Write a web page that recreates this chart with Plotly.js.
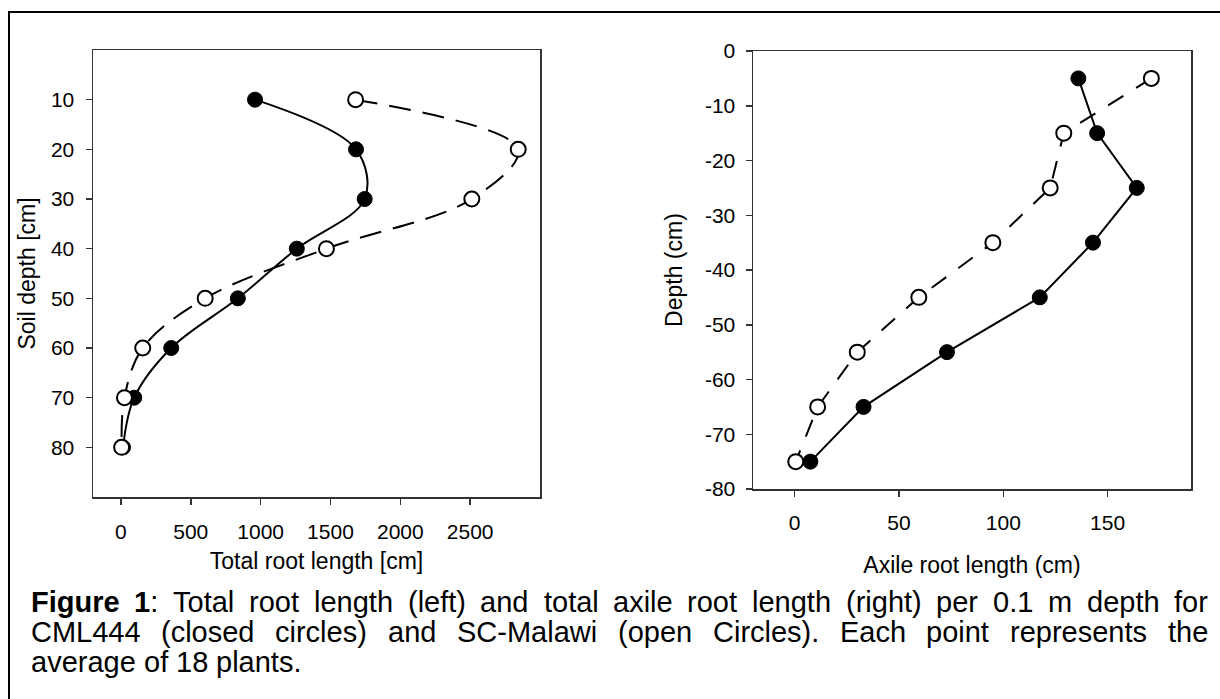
<!DOCTYPE html>
<html>
<head>
<meta charset="utf-8">
<script src="https://cdn.plot.ly/plotly-3.0.1.min.js"></script>
<style>
html,body{margin:0;padding:0;background:#fff;}
#chart{width:1220px;height:699px;}
</style>
</head>
<body>
<div id="chart"></div>
<script>
// Left panel: total root length vs soil depth
const depthLeft = [10, 20, 30, 40, 50, 60, 70, 80];
const totalCML444 = [960, 1683, 1745, 1259, 837, 360, 95, 15];
const totalSCMalawi = [1680, 2844, 2512, 1471, 603, 156, 25, 5];
const leftXTicks = [0, 500, 1000, 1500, 2000, 2500];
const leftYTicks = [10, 20, 30, 40, 50, 60, 70, 80];

// Right panel: axile root length vs depth
const depthRight = [-5, -15, -25, -35, -45, -55, -65, -75];
const axileCML444 = [136, 145, 164, 143, 117.5, 73, 33, 7.5];
const axileSCMalawi = [171, 129, 122.5, 95, 59.5, 30, 11, 0.5];
const rightXTicks = [0, 50, 100, 150];
const rightYTicks = [0, -10, -20, -30, -40, -50, -60, -70, -80];
const rightYTickText = ['0', '-10', '-20', '-30', '-40', '-50', '-60', '-70', '-80'];

// Caption
const captionBold = "Figure 1";
const captionLines = [
  "Figure 1: Total root length (left) and total axile root length (right) per 0.1 m depth for",
  "CML444 (closed circles) and SC-Malawi (open Circles). Each point represents the",
  "average of 18 plants."
];

const W = 1220, H = 699;
const FAMILY = 'Liberation Sans';
const FONT = "'Liberation Sans', Arial, sans-serif";
const px = v => v / W;
const py = v => 1 - v / H;

const closedMarker = {symbol: 'circle', size: 15, color: '#000', line: {color: '#000', width: 1}};
const openMarker = {symbol: 'circle', size: 15, color: '#fff', line: {color: '#000', width: 2}};

const traces = [
  {x: totalCML444, y: depthLeft, xaxis: 'x', yaxis: 'y', mode: 'lines+markers', name: 'CML444',
   line: {color: '#000', width: 2, shape: 'spline', smoothing: 1}, marker: closedMarker},
  {x: totalSCMalawi, y: depthLeft, xaxis: 'x', yaxis: 'y', mode: 'lines+markers', name: 'SC-Malawi',
   line: {color: '#000', width: 2, shape: 'spline', smoothing: 1, dash: '22px,12px'}, marker: openMarker},
  {x: axileCML444, y: depthRight, xaxis: 'x2', yaxis: 'y2', mode: 'lines+markers', name: 'CML444',
   line: {color: '#000', width: 2}, marker: closedMarker},
  {x: axileSCMalawi, y: depthRight, xaxis: 'x2', yaxis: 'y2', mode: 'lines+markers', name: 'SC-Malawi',
   line: {color: '#000', width: 2, dash: '18px,15px'}, marker: openMarker}
];

const TICKSIZE = 21, TITLESIZE = 23;
const axisCommon = {
  showgrid: false, zeroline: false, showline: true, mirror: true,
  linecolor: '#333', linewidth: 1.5,
  ticks: 'outside', ticklen: 6, tickwidth: 1.5, tickcolor: '#333',
  tickfont: {family: FONT, size: TICKSIZE, color: '#000'},
  fixedrange: true, automargin: false
};

// ---- justified caption, one annotation per word ----
const CAPSIZE = 29;
const cv = document.createElement('canvas').getContext('2d');
function measure(text, bold) {
  cv.font = (bold ? 'bold ' : '') + CAPSIZE + 'px "' + FAMILY + '"';
  return cv.measureText(text).width;
}
const capLeft = 30, capRight = 1207;
const capY = [602, 632, 662];
const captionAnns = [];
captionLines.forEach((line, li) => {
  const boldLen = li === 0 ? captionBold.length : 0;
  const words = [];
  let idx = 0;
  line.split(' ').forEach(w => {
    const start = line.indexOf(w, idx);
    idx = start + w.length;
    const nb = Math.max(0, Math.min(w.length, boldLen - start));
    const bPart = w.slice(0, nb), rPart = w.slice(nb);
    const width = (bPart ? measure(bPart, true) : 0) + (rPart ? measure(rPart, false) : 0);
    const html = (bPart ? '<b>' + bPart + '</b>' : '') + rPart;
    words.push({html, width});
  });
  const total = words.reduce((s, w) => s + w.width, 0);
  const justify = li < captionLines.length - 1;
  const gap = justify ? (capRight - capLeft - total) / (words.length - 1) : measure(' ', false);
  let x = capLeft;
  words.forEach(w => {
    captionAnns.push({
      xref: 'paper', yref: 'paper', x: px(x), y: py(capY[li]),
      xanchor: 'left', yanchor: 'middle', showarrow: false, borderpad: 0,
      text: w.html, font: {family: FONT, size: CAPSIZE, color: '#000'}
    });
    x += w.width + gap;
  });
});

const layout = {
  width: W, height: H,
  margin: {l: 0, r: 0, t: 0, b: 0},
  paper_bgcolor: '#fff', plot_bgcolor: '#fff',
  showlegend: false,
  font: {family: FONT, color: '#000'},
  xaxis: Object.assign({}, axisCommon, {
    domain: [px(93), px(540)], anchor: 'y',
    range: [-200, 3000], tickmode: 'array', tickvals: leftXTicks,
    ticklabelstandoff: 9,
    title: {text: 'Total root length [cm]', font: {family: FONT, size: TITLESIZE, color: '#000'}, standoff: 11}
  }),
  yaxis: Object.assign({}, axisCommon, {
    domain: [py(497), py(50)], anchor: 'x',
    range: [90, 0], tickmode: 'array', tickvals: leftYTicks,
    ticklabelstandoff: 7,
    title: {text: 'Soil depth [cm]', font: {family: FONT, size: TITLESIZE, color: '#000'}, standoff: 9}
  }),
  xaxis2: Object.assign({}, axisCommon, {
    domain: [px(753), px(1191)], anchor: 'y2',
    range: [-20, 190], tickmode: 'array', tickvals: rightXTicks,
    ticklabelstandoff: 8,
    title: {text: 'Axile root length (cm)', font: {family: FONT, size: TITLESIZE, color: '#000'}, standoff: 24}
  }),
  yaxis2: Object.assign({}, axisCommon, {
    domain: [py(489), py(51)], anchor: 'x2',
    range: [-80, 0], tickmode: 'array', tickvals: rightYTicks, ticktext: rightYTickText,
    ticklabelstandoff: 6,
    title: {text: 'Depth (cm)', font: {family: FONT, size: TITLESIZE, color: '#000'}, standoff: 16}
  }),
  shapes: [
    {type: 'rect', xref: 'paper', yref: 'paper', x0: px(9), x1: px(1240), y0: py(720), y1: py(12),
     line: {color: '#000', width: 2}, fillcolor: 'rgba(0,0,0,0)', layer: 'below'}
  ],
  annotations: captionAnns
};

Plotly.newPlot('chart', traces, layout, {displayModeBar: false, staticPlot: true});
</script>
</body>
</html>
